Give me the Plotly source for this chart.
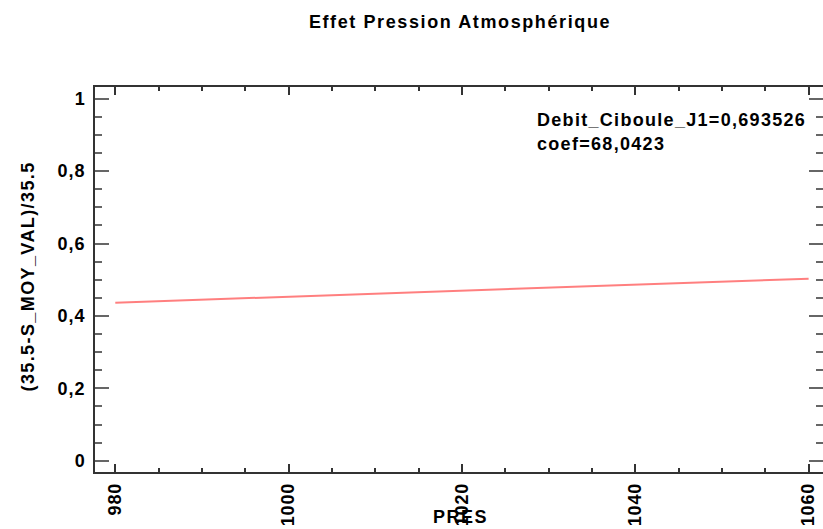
import plotly.graph_objects as go

# Fitted effect of atmospheric pressure (line endpoints)
pres = [980, 1060]
effect = [0.4365, 0.5028]

x_ticks = [980, 1000, 1020, 1040, 1060]
x_labels = ["980", "1000", "1020", "1040", "1060"]
y_ticks = [0, 0.2, 0.4, 0.6, 0.8, 1]
y_labels = ["0", "0,2", "0,4", "0,6", "0,8", "1"]

title_text = "Effet Pression Atmosphérique"
x_title = "PRES"
y_title = "(35.5-S_MOY_VAL)/35.5"
info_lines = ["Debit_Ciboule_J1=0,693526", "coef=68,0423"]

FONT = "Liberation Sans, Arial, sans-serif"
FS = 18
W, H = 823, 529
L, R, T, B = 95, 0, 87, 57

x_range = [977.66, 1061.66]
y_range = [-0.0312, 1.0323]


def spaced(text, px_gap):
    return f'<span style="letter-spacing:{px_gap}px">{text}</span>'


fig = go.Figure()
fig.add_trace(go.Scatter(
    x=pres, y=effect, mode="lines",
    line=dict(color="#FF7F7F", width=2),
    hoverinfo="skip", showlegend=False,
))
# companion trace carrying the right-hand tick axis
fig.add_trace(go.Scatter(
    x=pres, y=effect, mode="lines", yaxis="y2",
    line=dict(color="rgba(0,0,0,0)", width=0),
    hoverinfo="skip", showlegend=False,
))

bold = dict(family=FONT, size=FS, color="#000", weight="bold")

fig.update_layout(
    width=W, height=H,
    margin=dict(l=L, r=R, t=T, b=B, pad=0),
    paper_bgcolor="white", plot_bgcolor="white",
    separators=", ",
    title=dict(
        text=spaced(title_text, 1.6), x=460 / W, xref="container",
        xanchor="center", y=1 - 22 / H, yref="container", yanchor="middle",
        font=bold,
    ),
    xaxis=dict(
        range=x_range, tickvals=x_ticks,
        ticktext=[spaced(t, 0.8) for t in x_labels],
        ticks="inside", ticklen=8,
        tickwidth=1.5, tickcolor="#333", showline=True, linecolor="#333",
        linewidth=1.5, mirror="ticks", showgrid=False, zeroline=False,
        tickangle=-90, tickfont=bold, ticklabelstandoff=2,
        minor=dict(dtick=5, tick0=980, ticks="inside", ticklen=4,
                   tickwidth=1.5, tickcolor="#333", showgrid=False),
    ),
    yaxis=dict(
        range=y_range, tickvals=y_ticks,
        ticktext=[spaced(t, 1) for t in y_labels],
        ticks="inside", ticklen=14,
        tickwidth=1.5, tickcolor="#666", showline=True, linecolor="#333",
        linewidth=1.5, mirror=False, showgrid=False, zeroline=False,
        tickfont=bold, ticklabelstandoff=4,
        minor=dict(dtick=0.05, tick0=0, ticks="inside", ticklen=7,
                   tickwidth=1.5, tickcolor="#666", showgrid=False),
    ),
    yaxis2=dict(
        range=y_range, overlaying="y", side="right", anchor="x",
        tickvals=y_ticks, ticks="inside", ticklen=14, tickwidth=1.5,
        tickcolor="#666", showline=False, showgrid=False, zeroline=False,
        showticklabels=False,
        minor=dict(dtick=0.05, tick0=0, ticks="inside", ticklen=7,
                   tickwidth=1.5, tickcolor="#666", showgrid=False),
    ),
)

pw, ph = W - L - R, H - T - B


def px(xp):
    return (xp - L) / pw


def py(yp):
    return (H - B - yp) / ph


fig.add_annotation(
    text=spaced(y_title, 1.4), textangle=-90, xref="paper", yref="paper",
    x=px(27), y=py(276.5), xanchor="center", yanchor="middle",
    showarrow=False, font=bold,
)
fig.add_annotation(
    text=spaced(x_title, 1.5), xref="paper", yref="paper",
    x=px(460.5), y=py(516.5), xanchor="center", yanchor="middle",
    showarrow=False, font=bold,
)
for line, yc in zip(info_lines, [119.5, 144]):
    fig.add_annotation(
        text=spaced(line, 1.3), xref="paper", yref="paper",
        x=px(535), y=py(yc), xanchor="left", yanchor="middle",
        showarrow=False, font=bold,
    )

fig.write_html("out.html")
